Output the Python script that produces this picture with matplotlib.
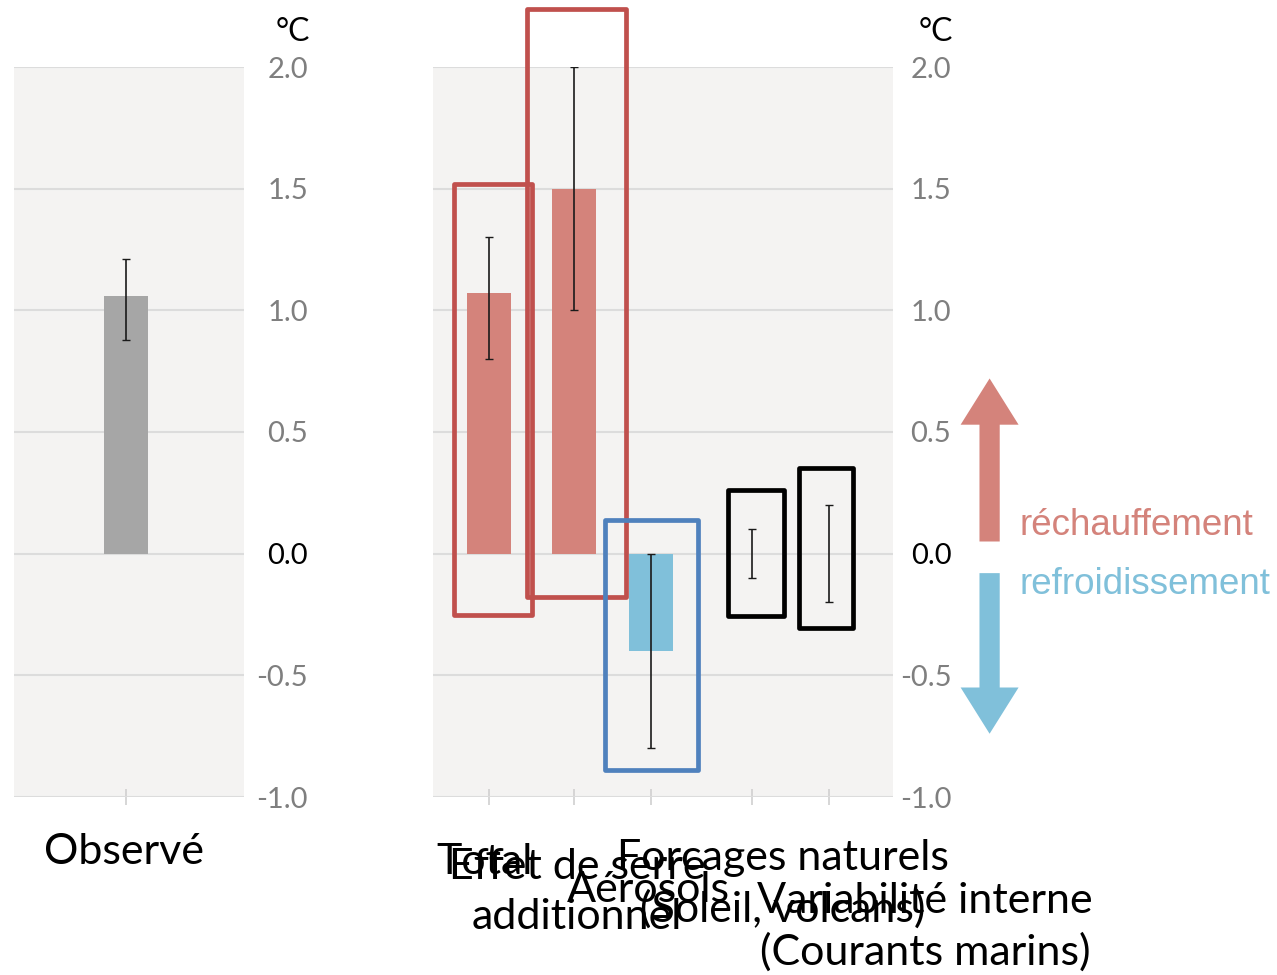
import matplotlib.pyplot as plt
from matplotlib.patches import Rectangle, FancyArrow

#--Data--#
obs_cats = ['Observé']
obs_vals = [1.06]
obs_lo = [0.88]
obs_hi = [1.21]

cats = ['Total', 'Effet de serre\nadditionnel', 'Aérosols',
        'Forcages naturels\n(Soleil, volcans)', 'Variabilité interne\n(Courants marins)']
vals = [1.07, 1.50, -0.40, 0.0, 0.0]
err_lo = [0.80, 1.00, -0.80, -0.10, -0.20]
err_hi = [1.30, 2.00, 0.00, 0.10, 0.20]
yticks = [-1.0, -0.5, 0.0, 0.5, 1.0, 1.5, 2.0]

#--Layout / style--#
W, H = 1277, 975
BG = '#f4f3f2'
GRID = '#dcdcdc'
RED = '#d4837b'
BLUE = '#80c0da'
bar_cols = [RED, RED, BLUE, RED, RED]
xpos = [0.61, 1.53, 2.37, 3.47, 4.30]
box_w = [0.85, 1.07, 1.01, 0.61, 0.58]
box_dx = [0.04, 0.03, 0.0, 0.04, -0.03]
pad_top = [0.22, 0.24, 0.14, 0.16, 0.15]
pad_bot = [0.25, 0.18, 0.09, 0.155, 0.105]
box_cols = ['#c0504d', '#c0504d', '#4f81bd', 'black', 'black']
label_px = [(485, 862), (577, 892), (648, 890), (783, 884), (925, 927)]


def fig_xy(x, y):
    return x / W, 1 - y / H


def style_axes(ax, label_pad, unit_dx):
    ax.set_facecolor(BG)
    for s in ax.spines.values():
        s.set_visible(False)
    ax.set_ylim(-1.0, 2.0)
    ax.set_yticks(yticks)
    ax.yaxis.tick_right()
    ax.set_yticklabels([f'{t:.1f}' for t in yticks], family='Lato', fontsize=21)
    ax.tick_params(axis='y', length=0, pad=label_pad)
    for t, lab in zip(yticks, ax.get_yticklabels()):
        lab.set_horizontalalignment('right')
        lab.set_color('black' if t == 0 else '#7f7f7f')
    ax.grid(axis='y', color=GRID, lw=1.5)
    ax.set_axisbelow(True)
    ax.tick_params(axis='x', direction='inout', length=12, width=1.2,
                   color='#d0d0d0', labelbottom=False)
    ax.text(1.0 + unit_dx, 1.028, '°C', transform=ax.transAxes, ha='left',
            va='bottom', family='Lato', fontsize=23, color='black')


fig = plt.figure(figsize=(W / 100, H / 100), dpi=100)

#--Left panel: observed--#
ax1 = fig.add_axes([14 / W, 1 - 797 / H, 230 / W, 730 / H])
ax1.set_xlim(0, 2.5)
ax1.bar([1.22], obs_vals, width=0.48, color='#a6a6a6', zorder=2)
ax1.errorbar([1.22], obs_vals,
             yerr=[[obs_vals[0] - obs_lo[0]], [obs_hi[0] - obs_vals[0]]],
             fmt='none', ecolor='#1a1a1a', elinewidth=1.2, capsize=3, zorder=3)
ax1.set_xticks([1.22])
style_axes(ax1, 46, 32 / 230)
fig.text(*fig_xy(124, 852), obs_cats[0], ha='center', va='center',
         family='Lato', fontsize=31)

#--Right panel: attribution--#
ax2 = fig.add_axes([433 / W, 1 - 797 / H, 460 / W, 730 / H])
ax2.set_xlim(0, 5)
ax2.bar(xpos, vals, width=0.48, color=bar_cols, zorder=2)
yerr = [[v - lo for v, lo in zip(vals, err_lo)], [hi - v for v, hi in zip(vals, err_hi)]]
ax2.errorbar(xpos, vals, yerr=yerr, fmt='none', ecolor='#1a1a1a',
             elinewidth=1.2, capsize=3, zorder=3)
ax2.set_xticks(xpos)
style_axes(ax2, 42, 26 / 460)

# highlight boxes around each category
for i in range(len(cats)):
    top = max(vals[i], err_hi[i], 0) + pad_top[i]
    bot = min(vals[i], err_lo[i], 0) - pad_bot[i]
    r = Rectangle((xpos[i] - box_w[i] / 2 + box_dx[i], bot), box_w[i], top - bot,
                  fill=False, ec=box_cols[i], lw=3.4, joinstyle='round',
                  clip_on=False, zorder=4)
    ax2.add_patch(r)

for (px, py), c in zip(label_px, cats):
    fig.text(*fig_xy(px, py), c, ha='center', va='center', family='Lato',
             fontsize=31, linespacing=1.36)

# warming / cooling arrows
ax2.add_patch(FancyArrow(6.05, 0.05, 0, 0.67, width=0.22, head_width=0.63,
                         head_length=0.19, length_includes_head=True,
                         color=RED, lw=0, clip_on=False))
ax2.add_patch(FancyArrow(6.05, -0.08, 0, -0.66, width=0.22, head_width=0.63,
                         head_length=0.19, length_includes_head=True,
                         color=BLUE, lw=0, clip_on=False))
ax2.text(6.38, 0.115, 'réchauffement', color=RED, family='Liberation Sans',
         fontsize=26.5, va='center', ha='left', clip_on=False)
ax2.text(6.38, -0.127, 'refroidissement', color=BLUE, family='Liberation Sans',
         fontsize=26.5, va='center', ha='left', clip_on=False)

fig.savefig('out.png', dpi=100)
